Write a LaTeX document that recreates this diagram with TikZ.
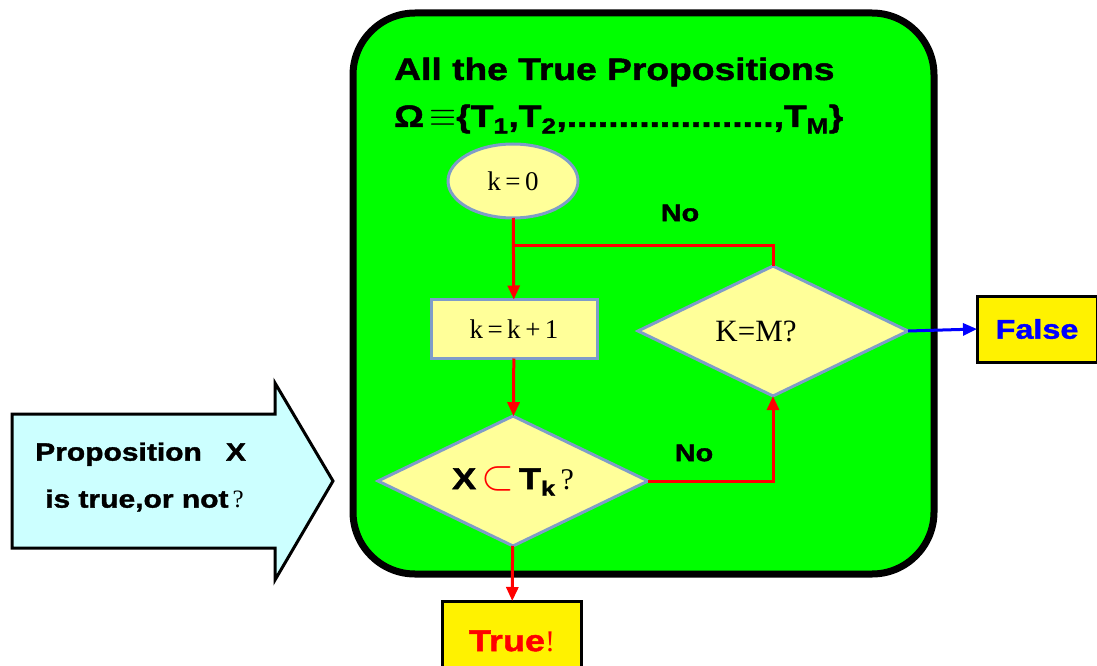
\documentclass[tikz,border=0pt]{standalone}
\usepackage{fontspec}
\setmainfont{Liberation Serif}
\setsansfont{Liberation Sans}
\newfontfamily\heavysans[FakeStretch=1.2,FakeBold=1.5]{Liberation Sans}
\usepackage{xcolor}
\usepackage{tikz}
\usetikzlibrary{arrows.meta,shapes.geometric}

\definecolor{panelgreen}{HTML}{00FF00}
\definecolor{paleyellow}{HTML}{FFFF99}
\definecolor{edgeblue}{HTML}{7F9CC9}
\definecolor{palecyan}{HTML}{CCFFFF}

\begin{document}
\begin{tikzpicture}[
  x=1pt, y=-1pt,
  box/.style={draw=edgeblue, line width=3pt, fill=paleyellow, inner sep=0pt, outer sep=0pt, align=center},
  decision/.style={box, diamond, minimum width=270pt, minimum height=130pt, aspect=2.08},
  result/.style={draw=black, line width=3pt, fill=yellow, inner sep=0pt, outer sep=0pt},
  bigsans/.style={font=\heavysans\bfseries\fontsize{#1}{#1}\selectfont},
  flow/.style={-{Triangle[length=14pt,width=12pt]}, line width=3pt, red},
  label/.style={bigsans=24, inner sep=0pt}
]
\useasboundingbox (0,0) rectangle (1097,666);
% the set of true propositions
\draw[line width=7pt, fill=panelgreen, rounded corners=62pt] (353,13) rectangle (934,574);
\node[bigsans=31, anchor=base west, inner sep=0pt] (title) at (394,80) {All the True Propositions};
\node[bigsans=31, anchor=base west, inner sep=0pt] (omega) at (394,127)
  {Ω{\mdseries\,\scalebox{1.4}{$\equiv$}}\{T\textsubscript{1},T\textsubscript{2},....................,T\textsubscript{M}\}};
% input arrow
\draw[line width=3pt, fill=palecyan, line join=miter]
  (12,414) -- (275,414) -- (275,383) -- (333,481) -- (275,580) -- (275,548) -- (12,548) -- cycle;
\node[bigsans=25, align=left, inner sep=0pt, anchor=west] (prop) at (35,477)
  {Proposition\hspace{24pt}X\\[22pt]\hspace{10pt}is true,or not{\mdseries\rmfamily\,?}};
% flow chart
\node[box, ellipse, minimum width=130pt, minimum height=74pt, font=\fontsize{27}{27}\selectfont] (start) at (513,181) {k\,=\,0};
\node[box, minimum width=166pt, minimum height=59pt, font=\fontsize{27}{27}\selectfont] (step) at (514,329) {k\,=\,k\,+\,1};
\node[decision, bigsans=30] (test) at (513,481)
  {X\,{\color{red}\scalebox{1.7}{$\subset$}}\,T\textsubscript{k}\,{\mdseries\rmfamily ?}};
\node[decision, font=\fontsize{31}{31}\selectfont] (last) at (773,331) {K=M?\hspace*{34pt}};
\node[result, minimum width=120pt, minimum height=66pt, bigsans=27, text=blue] (false) at (1037,329) {False};
\node[result, minimum width=139pt, minimum height=80pt, bigsans=30, text=red] (true) at (512,641) {True{\mdseries\rmfamily !}};
\coordinate (join) at (513,245);
\node[label] (no1) at (680,213) {No};
\node[label] (no2) at (694,453) {No};
\draw[flow] (start) -- (step);
\draw[line width=3pt, red] (last.north) |- (join);
\draw[flow] (step) -- (test);
\draw[flow] (test.east) -| (last.south);
\draw[flow] (test) -- (true);
\draw[-{Triangle[length=14pt,width=12pt]}, line width=3pt, blue] (last.east) -- (false.west);
\end{tikzpicture}
\end{document}
